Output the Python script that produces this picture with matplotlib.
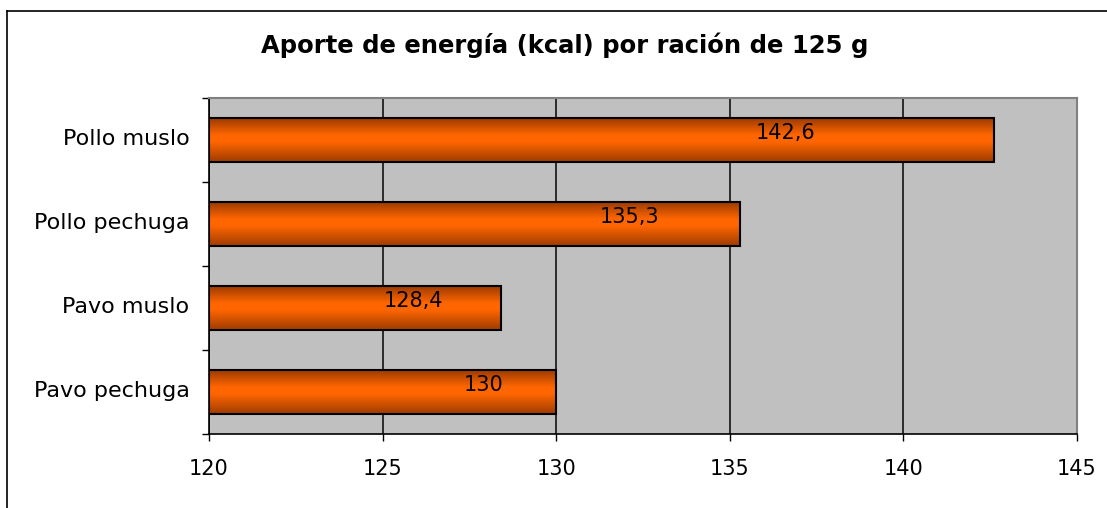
import numpy as np
import matplotlib.pyplot as plt
from matplotlib.lines import Line2D
from matplotlib.colors import LinearSegmentedColormap

plt.rcParams['font.family'] = ['DejaVu Sans']

categories = ['Pollo muslo', 'Pollo pechuga', 'Pavo muslo', 'Pavo pechuga']
kcal = [142.6, 135.3, 128.4, 130]
value_labels = ['142,6', '135,3', '128,4', '130']
x_ticks = [120, 125, 130, 135, 140, 145]

# where Excel happened to put the value labels (data units)
label_x = [136.6, 132.1, 125.9, 127.9]

fig = plt.figure(figsize=(11.07, 5.08), dpi=100)
ax = fig.add_axes([209 / 1107, 74 / 508, 868 / 1107, 336 / 508])
ax.set_facecolor('#C0C0C0')

ypos = np.arange(len(categories))[::-1]
bar_h = 0.524
bars = ax.barh(ypos, [v - 120 for v in kcal], left=120, height=bar_h,
               facecolor='none', edgecolor='black', linewidth=1.5, zorder=3)

# orange gradient: dark at top/bottom, bright in the middle
cmap = LinearSegmentedColormap.from_list('org', [(0, '#A03C00'), (0.45, '#FF6600'),
                                                  (0.6, '#FF6600'), (1, '#983800')])
grad = np.linspace(0, 1, 100).reshape(-1, 1)
for b in bars:
    x0, y0 = b.get_x(), b.get_y()
    ax.imshow(grad, cmap=cmap, aspect='auto', zorder=2,
              extent=(x0, x0 + b.get_width(), y0 + b.get_height(), y0))

for y, lx, t in zip(ypos, label_x, value_labels):
    ax.text(lx, y + 0.08, t, ha='center', va='center', fontsize=15, zorder=4)

ax.set_xlim(120, 145)
ax.set_ylim(-0.5, len(categories) - 0.5)
ax.set_xticks(x_ticks)
ax.set_xticklabels([str(t) for t in x_ticks], fontsize=15)
ax.set_yticks(ypos + 0.03)
ax.set_yticklabels(categories, fontsize=16)
ax.set_yticks(np.arange(-0.5, len(categories), 1.0), minor=True)
ax.tick_params(axis='y', which='major', length=0, pad=14)
ax.tick_params(axis='y', which='minor', length=5, width=1, direction='out')
ax.tick_params(axis='x', length=5, width=1, direction='out', pad=13)

ax.grid(axis='x', color='#202020', linewidth=1.3, zorder=1)
ax.set_axisbelow(True)
for s in ['top', 'right']:
    ax.spines[s].set_color('#808080')
    ax.spines[s].set_linewidth(1.5)
for s in ['left', 'bottom']:
    ax.spines[s].set_color('black')
    ax.spines[s].set_linewidth(1.2)

fig.text(565 / 1107, 1 - 45 / 508, 'Aporte de energía (kcal) por ración de 125 g',
         ha='center', va='center', fontsize=17.5, fontweight='bold')

# chart frame (only top and left edges fall inside the picture)
fig.add_artist(Line2D([7 / 1107, 7 / 1107], [0, 1 - 11 / 508], color='black', lw=1.2,
                      transform=fig.transFigure))
fig.add_artist(Line2D([7 / 1107, 1], [1 - 11 / 508, 1 - 11 / 508], color='black', lw=1.2,
                      transform=fig.transFigure))

fig.savefig('out.png', dpi=100)
